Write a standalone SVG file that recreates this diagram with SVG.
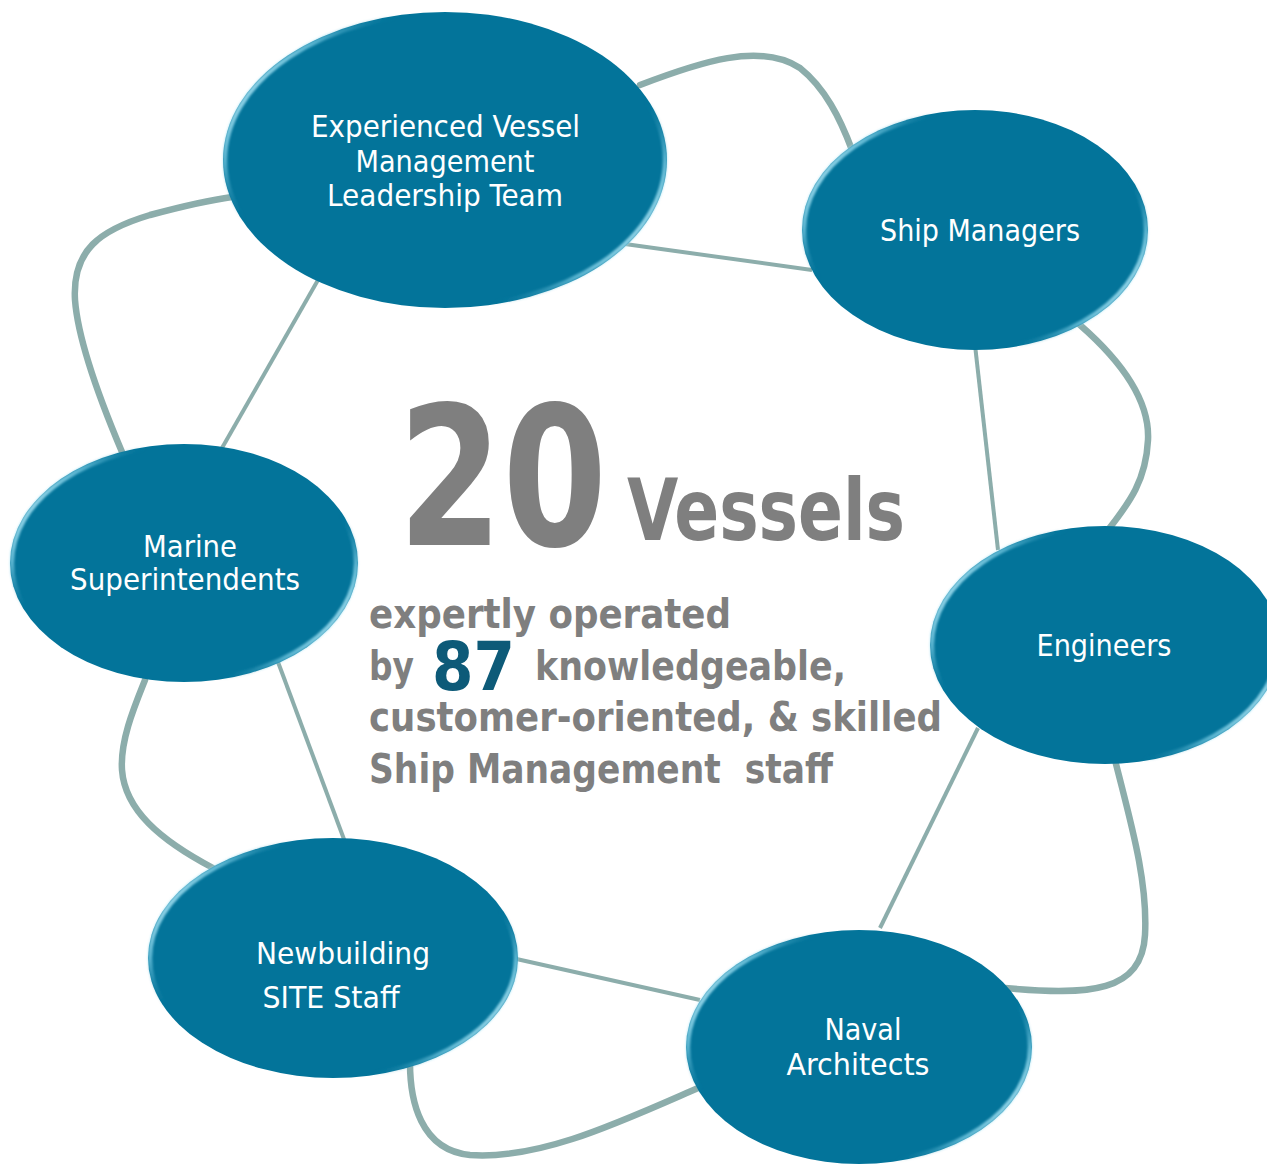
<svg xmlns="http://www.w3.org/2000/svg" width="1267" height="1165" viewBox="0 0 1267 1165">
<defs>
<linearGradient id="rim" x1="0" y1="0.25" x2="1" y2="0.75">
<stop offset="0" stop-color="#d0f6ff" stop-opacity="1"/>
<stop offset="0.1" stop-color="#8fdcf2" stop-opacity="0.6"/>
<stop offset="0.22" stop-color="#03749a" stop-opacity="0"/>
<stop offset="0.78" stop-color="#03749a" stop-opacity="0"/>
<stop offset="0.9" stop-color="#8fdcf2" stop-opacity="0.6"/>
<stop offset="1" stop-color="#d0f6ff" stop-opacity="1"/>
</linearGradient>
<filter id="soft" x="-5%" y="-5%" width="110%" height="110%">
<feGaussianBlur stdDeviation="0.9"/>
</filter>
</defs>
<style>
.node{fill:#03749a;}
.rim{fill:none;stroke:url(#rim);stroke-width:4.5;filter:url(#soft);}
.lbl{font-family:"DejaVu Sans","Liberation Sans",sans-serif;font-stretch:condensed;font-size:30px;fill:#ffffff;text-anchor:middle;}
.big{font-family:"DejaVu Sans","Liberation Sans",sans-serif;font-stretch:condensed;font-weight:bold;fill:#7f7f7f;}
.teal{fill:#0d5a78;}
.outer{fill:none;stroke:#8cadab;stroke-width:6.5;stroke-linecap:round;}
.inner{fill:none;stroke:#8cadab;stroke-width:4;}
</style>
<rect width="1267" height="1165" fill="#ffffff"/>
<g id="connectors">
<path class="outer" d="M640,85 C700,62 760,42 800,68 C825,88 840,118 852,150"/>
<path class="outer" d="M1080,325 C1120,360 1150,400 1148,440 C1146,480 1130,502 1108,530"/>
<path class="outer" d="M1115,760 C1130,820 1148,880 1145,935 C1142,992 1090,996 1005,988"/>
<path class="outer" d="M698,1088 C620,1122 540,1160 470,1155 C420,1150 410,1100 410,1063"/>
<path class="outer" d="M213,868 C160,840 125,810 122,770 C120,740 135,705 145,680"/>
<path class="outer" d="M122,452 C100,400 78,340 75,300 C72,250 100,230 150,215 C180,207 210,200 232,197"/>
<line class="inner" x1="625" y1="244" x2="812" y2="270"/>
<line class="inner" x1="975" y1="345" x2="998" y2="550"/>
<line class="inner" x1="978" y1="728" x2="880" y2="928"/>
<line class="inner" x1="700" y1="1000" x2="512" y2="958"/>
<line class="inner" x1="345" y1="842" x2="278" y2="662"/>
<line class="inner" x1="222" y1="448" x2="318" y2="280"/>
</g>
<g id="node-leadership">
<ellipse class="node" cx="445" cy="160" rx="222" ry="148"/>
<ellipse class="rim" cx="445" cy="160" rx="220" ry="146"/>
<text class="lbl" x="445.5" y="137" textLength="269" lengthAdjust="spacingAndGlyphs">Experienced Vessel</text>
<text class="lbl" x="445" y="172" textLength="179" lengthAdjust="spacingAndGlyphs">Management</text>
<text class="lbl" x="445" y="206" textLength="236" lengthAdjust="spacingAndGlyphs">Leadership Team</text>
</g>
<g id="node-ship-managers">
<ellipse class="node" cx="975" cy="230" rx="173" ry="120"/>
<ellipse class="rim" cx="975" cy="230" rx="171" ry="118"/>
<text class="lbl" x="980" y="241" textLength="200" lengthAdjust="spacingAndGlyphs">Ship Managers</text>
</g>
<g id="node-engineers">
<ellipse class="node" cx="1105" cy="645" rx="175" ry="119"/>
<ellipse class="rim" cx="1105" cy="645" rx="173" ry="117"/>
<text class="lbl" x="1104" y="656" textLength="135" lengthAdjust="spacingAndGlyphs">Engineers</text>
</g>
<g id="node-naval">
<ellipse class="node" cx="859" cy="1047" rx="173" ry="117"/>
<ellipse class="rim" cx="859" cy="1047" rx="171" ry="115"/>
<text class="lbl" x="863" y="1040" textLength="77" lengthAdjust="spacingAndGlyphs">Naval</text>
<text class="lbl" x="858" y="1075" textLength="143" lengthAdjust="spacingAndGlyphs">Architects</text>
</g>
<g id="node-newbuilding">
<ellipse class="node" cx="333" cy="958" rx="185" ry="120"/>
<ellipse class="rim" cx="333" cy="958" rx="183" ry="118"/>
<text class="lbl" x="343" y="964" textLength="174" lengthAdjust="spacingAndGlyphs">Newbuilding</text>
<text class="lbl" x="331" y="1008" textLength="137" lengthAdjust="spacingAndGlyphs">SITE Staff</text>
</g>
<g id="node-marine">
<ellipse class="node" cx="184" cy="563" rx="174" ry="119"/>
<ellipse class="rim" cx="184" cy="563" rx="172" ry="117"/>
<text class="lbl" x="190" y="557" textLength="94" lengthAdjust="spacingAndGlyphs">Marine</text>
<text class="lbl" x="185" y="590" textLength="230" lengthAdjust="spacingAndGlyphs">Superintendents</text>
</g>
<g id="center-text">
<text class="big" x="398" y="545" font-size="195" textLength="209" lengthAdjust="spacingAndGlyphs">20</text>
<text class="big" x="627" y="540" font-size="85" textLength="278" lengthAdjust="spacingAndGlyphs">Vessels</text>
<text class="big" font-size="40" xml:space="preserve" style="white-space:pre"><tspan x="369" y="628" textLength="362" lengthAdjust="spacingAndGlyphs">expertly operated</tspan><tspan x="369" y="680" textLength="45" lengthAdjust="spacingAndGlyphs">by</tspan><tspan class="teal" x="432" y="690" font-size="68" textLength="83" lengthAdjust="spacingAndGlyphs">87</tspan><tspan x="535" y="680" textLength="311" lengthAdjust="spacingAndGlyphs">knowledgeable,</tspan><tspan x="369" y="731" textLength="573" lengthAdjust="spacingAndGlyphs">customer-oriented, &amp; skilled</tspan><tspan x="369" y="783" textLength="464" lengthAdjust="spacingAndGlyphs">Ship Management  staff</tspan></text>
</g>
</svg>
